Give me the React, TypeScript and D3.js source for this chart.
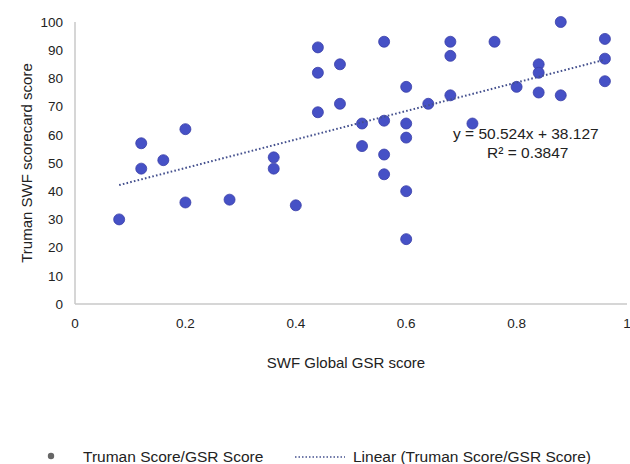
import * as d3 from "d3"
import React from "react"

// GSR score (x) and Truman scorecard score (y)
const gsrScores = [
    0.08, 0.12, 0.12, 0.16, 0.2, 0.2, 0.28, 0.36, 0.36, 0.4,
    0.44, 0.44, 0.44, 0.48, 0.48, 0.52, 0.52, 0.56, 0.56, 0.56,
    0.56, 0.6, 0.6, 0.6, 0.6, 0.6, 0.64, 0.68, 0.68, 0.68,
    0.72, 0.76, 0.8, 0.84, 0.84, 0.84, 0.88, 0.88, 0.96, 0.96,
    0.96,
]
const trumanScores = [
    30, 57, 48, 51, 62, 36, 37, 52, 48, 35,
    91, 82, 68, 85, 71, 64, 56, 93, 65, 53,
    46, 77, 64, 59, 40, 23, 71, 93, 88, 74,
    64, 93, 77, 85, 82, 75, 100, 74, 94, 87,
    79,
]
const xTicks = [0, 0.2, 0.4, 0.6, 0.8, 1]
const yTicks = [0, 10, 20, 30, 40, 50, 60, 70, 80, 90, 100]
const slope = 50.524
const intercept = 38.127
const rSquared = 0.3847

const width = 630
const height = 464
const margins = { left: 75, right: 3, top: 22, bottom: 160 }
const font = "'Liberation Sans', Arial, sans-serif"
const textColor = "#222"
const pointColor = "#4651c6"
const lineColor = "#44508e"

const App = () => {
    const scaleX = d3.scaleLinear()
        .domain([0, 1])
        .range([margins.left, width - margins.right])
    const scaleY = d3.scaleLinear()
        .domain([0, 100])
        .range([height - margins.bottom, margins.top])

    const points = gsrScores.map((x, i) => ({ x, y: trumanScores[i] }))
    const xMin = d3.min(gsrScores)
    const xMax = d3.max(gsrScores)
    const trend = d3.line()
        .x(d => scaleX(d[0]))
        .y(d => scaleY(d[1]))([
            [xMin, slope * xMin + intercept],
            [xMax, slope * xMax + intercept],
        ])

    const x0 = scaleX(0)
    const y0 = scaleY(0)

    return (
        <svg width={width} height={height}
            style={{ position: "absolute", left: 0, top: 0, background: "#fff" }}
            fontFamily={font}>
            {/* axes */}
            <line x1={x0} x2={x0} y1={scaleY(100)} y2={y0} stroke="#c8c8c8" strokeWidth={1.5} />
            <line x1={x0} x2={scaleX(1)} y1={y0} y2={y0} stroke="#c8c8c8" strokeWidth={1.5} />

            {yTicks.map(t => (
                <text key={t} x={63} y={scaleY(t)} dy="0.35em" textAnchor="end"
                    fontSize={13.5} fill={textColor}>{t}</text>
            ))}
            {xTicks.map(t => (
                <text key={t} x={scaleX(t)} y={y0 + 24} textAnchor="middle"
                    fontSize={13.5} fill={textColor}>{t}</text>
            ))}

            <text transform={`translate(27, ${scaleY(50)}) rotate(-90)`} dy="0.35em"
                textAnchor="middle" fontSize={15} fill={textColor}>Truman SWF scorecard score</text>
            <text x={346} y={368} textAnchor="middle" fontSize={15} fill={textColor}>SWF Global GSR score</text>

            {/* points */}
            {points.map((d, i) => (
                <circle key={i} cx={scaleX(d.x)} cy={scaleY(d.y)} r={5.5}
                    fill={pointColor} stroke="#3a3fa8" strokeWidth={0.8} />
            ))}

            {/* linear trend */}
            <path d={trend} fill="none" stroke={lineColor} strokeWidth={2}
                strokeDasharray="1.6,2.2" />

            <text x={453} y={139} fontSize={15.5} fill={textColor}>{`y = ${slope}x + ${intercept}`}</text>
            <text x={487} y={158} fontSize={15.5} fill={textColor}>R² = {rSquared}</text>

            {/* legend */}
            <circle cx={51} cy={456} r={3.2} fill="#666" />
            <text x={83} y={461.5} fontSize={15.5} fill={textColor}>Truman Score/GSR Score</text>
            <line x1={295} x2={345} y1={457} y2={457} stroke={lineColor} strokeWidth={1.5}
                strokeDasharray="1.5,2" />
            <text x={353} y={461.5} fontSize={15.5} fill={textColor}>Linear (Truman Score/GSR Score)</text>
        </svg>
    )
}

export default App
